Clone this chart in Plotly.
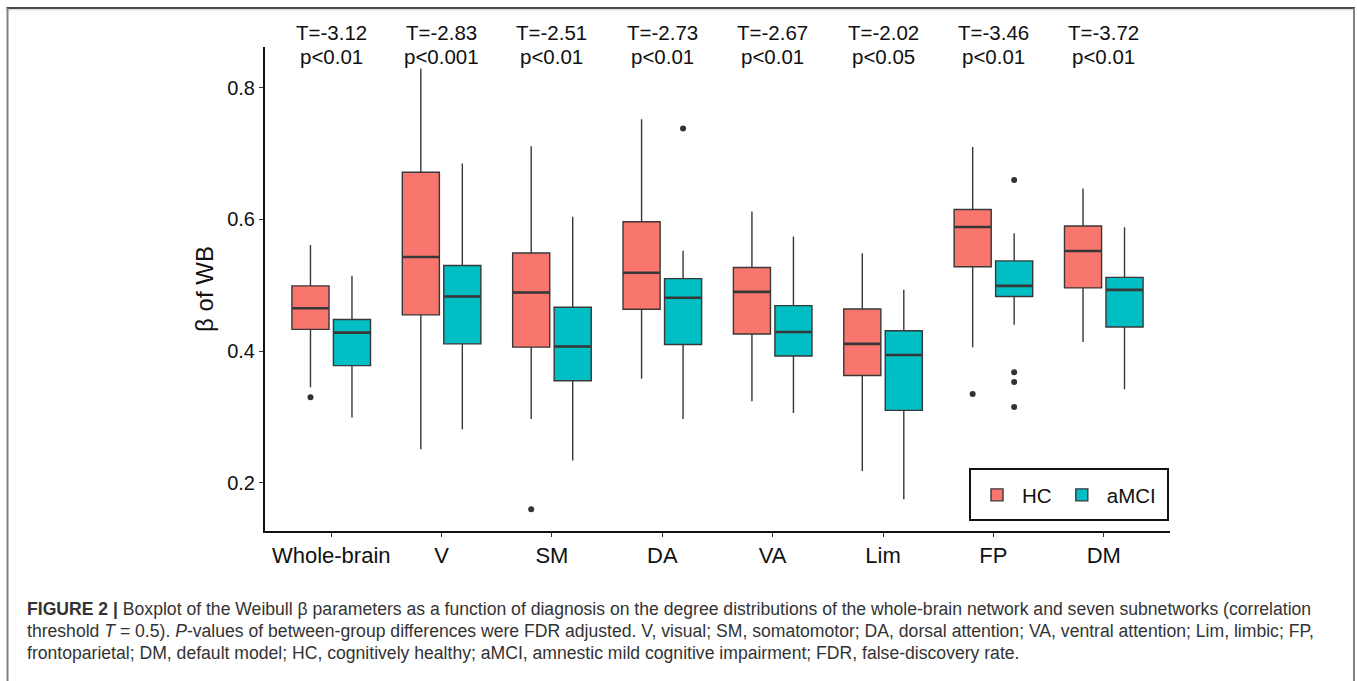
import plotly.graph_objects as go

# ---------------- data ----------------
categories = ["Whole-brain", "V", "SM", "DA", "VA", "Lim", "FP", "DM"]

hc_lower  = [0.345, 0.251, 0.297, 0.358, 0.324, 0.218, 0.406, 0.414]
hc_q1     = [0.433, 0.455, 0.406, 0.4635, 0.426, 0.363, 0.528, 0.496]
hc_median = [0.465, 0.543, 0.489, 0.519, 0.490, 0.411, 0.5885, 0.552]
hc_q3     = [0.499, 0.6715, 0.549, 0.5965, 0.527, 0.464, 0.615, 0.590]
hc_upper  = [0.561, 0.829, 0.711, 0.752, 0.612, 0.5485, 0.710, 0.647]

am_lower  = [0.299, 0.281, 0.234, 0.297, 0.306, 0.175, 0.440, 0.342]
am_q1     = [0.378, 0.411, 0.355, 0.410, 0.3925, 0.310, 0.483, 0.4366]
am_median = [0.428, 0.483, 0.407, 0.481, 0.429, 0.394, 0.499, 0.493]
am_q3     = [0.448, 0.530, 0.4665, 0.510, 0.469, 0.431, 0.537, 0.512]
am_upper  = [0.5145, 0.685, 0.604, 0.5525, 0.574, 0.493, 0.579, 0.588]

hc_outlier_cat = ["Whole-brain", "SM", "FP"]
hc_outlier_val = [0.330, 0.160, 0.335]
am_outlier_cat = ["DA", "FP", "FP", "FP", "FP"]
am_outlier_val = [0.738, 0.660, 0.368, 0.353, 0.315]

t_labels = ["T=-3.12", "T=-2.83", "T=-2.51", "T=-2.73", "T=-2.67", "T=-2.02", "T=-3.46", "T=-3.72"]
p_labels = ["p<0.01", "p<0.001", "p<0.01", "p<0.01", "p<0.01", "p<0.05", "p<0.01", "p<0.01"]

y_ticks = [0.2, 0.4, 0.6, 0.8]
y_range = [0.1268, 0.8618]

caption_lines = [
    "<b>FIGURE 2 |</b> Boxplot of the Weibull β parameters as a function of diagnosis on the degree distributions of the whole-brain network and seven subnetworks (correlation",
    "threshold <i>T</i> = 0.5). <i>P</i>-values of between-group differences were FDR adjusted. V, visual; SM, somatomotor; DA, dorsal attention; VA, ventral attention; Lim, limbic; FP,",
    "frontoparietal; DM, default model; HC, cognitively healthy; aMCI, amnestic mild cognitive impairment; FDR, false-discovery rate.",
]

# ---------------- layout geometry ----------------
W, H = 1357, 681
L, R, T, B = 265, 187, 47, 150
PW, PH = W - L - R, H - T - B


def px2x(px):
    return (px - L) / PW


def py2y(py):
    return (H - B - py) / PH


HC_COLOR = "#F8766D"
AM_COLOR = "#00BFC4"
LINE_COLOR = "#383838"
FONT = "Liberation Sans, Arial, Helvetica, sans-serif"

fig = go.Figure()

for name, color, lo, q1, med, q3, up in [
    ("HC", HC_COLOR, hc_lower, hc_q1, hc_median, hc_q3, hc_upper),
    ("aMCI", AM_COLOR, am_lower, am_q1, am_median, am_q3, am_upper),
]:
    fig.add_trace(go.Box(
        name=name, x=categories, q1=q1, median=med, q3=q3,
        lowerfence=lo, upperfence=up,
        fillcolor=color, line=dict(color=LINE_COLOR, width=1.4),
        whiskerwidth=0, offsetgroup=name, boxpoints=False,
        hoverinfo="skip",
    ))

# thicker median lines (ggplot style)
for name, med in [("HC", hc_median), ("aMCI", am_median)]:
    fig.add_trace(go.Scatter(
        x=categories, y=med, mode="markers", offsetgroup=name, showlegend=False,
        marker=dict(symbol="line-ew", size=26, color=LINE_COLOR,
                    line=dict(color=LINE_COLOR, width=2.6)),
        hoverinfo="skip",
    ))

# outliers
for name, cats, vals in [("HC", hc_outlier_cat, hc_outlier_val),
                         ("aMCI", am_outlier_cat, am_outlier_val)]:
    fig.add_trace(go.Scatter(
        x=cats, y=vals, mode="markers", offsetgroup=name, showlegend=False,
        marker=dict(size=6, color="#333333"),
        hoverinfo="skip",
    ))

annotations = []
for cat, t, p in zip(categories, t_labels, p_labels):
    annotations.append(dict(x=cat, xref="x", y=py2y(32), yref="paper", text=t,
                            showarrow=False, yanchor="middle",
                            font=dict(size=20.5, color="#111111", family=FONT)))
    annotations.append(dict(x=cat, xref="x", y=py2y(56), yref="paper",
                            text=p.replace("<", "&lt;"),
                            showarrow=False, yanchor="middle",
                            font=dict(size=20.5, color="#111111", family=FONT)))

for i, line in enumerate(caption_lines):
    annotations.append(dict(x=px2x(25), xref="paper", xanchor="left",
                            y=py2y(609 + 22 * i), yref="paper", yanchor="middle",
                            text=line, showarrow=False,
                            font=dict(size=17.6, color="#333333", family=FONT)))

shapes = [
    # figure frame
    dict(type="line", xref="paper", yref="paper", x0=px2x(6.5), x1=px2x(1355),
         y0=py2y(8), y1=py2y(8), line=dict(color="#4a4a4a", width=2)),
    dict(type="line", xref="paper", yref="paper", x0=px2x(8), x1=px2x(1354),
         y0=py2y(9.8), y1=py2y(9.8), line=dict(color="#d0d0d0", width=1)),
    dict(type="line", xref="paper", yref="paper", x0=px2x(7.5), x1=px2x(7.5),
         y0=py2y(8), y1=py2y(690), line=dict(color="#808080", width=2)),
    dict(type="line", xref="paper", yref="paper", x0=px2x(1354), x1=px2x(1354),
         y0=py2y(8), y1=py2y(690), line=dict(color="#808080", width=2)),
    # legend frame
    dict(type="rect", xref="paper", yref="paper", x0=px2x(970), x1=px2x(1168),
         y0=py2y(520), y1=py2y(469), line=dict(color="#111111", width=2),
         fillcolor="rgba(0,0,0,0)"),
]

fig.update_layout(
    width=W, height=H, autosize=False,
    margin=dict(l=L, r=R, t=T, b=B, pad=0),
    paper_bgcolor="white", plot_bgcolor="white",
    boxmode="group", boxgap=0.248, boxgroupgap=0.106,
    scattermode="group", scattergap=0.248,
    font=dict(family=FONT, color="#111111"),
    showlegend=True,
    legend=dict(
        orientation="h", x=px2x(972), xanchor="left", y=py2y(495), yanchor="middle",
        borderwidth=0, bgcolor="rgba(0,0,0,0)", itemwidth=40,
        font=dict(size=20.5, family=FONT, color="#111111"),
        itemclick=False, itemdoubleclick=False,
    ),
    annotations=annotations,
    shapes=shapes,
)

fig.update_xaxes(
    type="category", categoryorder="array", categoryarray=categories,
    range=[-0.6, len(categories) - 0.4],
    showline=True, linecolor="#111111", linewidth=2,
    ticks="outside", ticklen=4, tickcolor="#333333", tickwidth=1,
    tickfont=dict(size=22, family=FONT, color="#111111"),
    showgrid=False, zeroline=False, fixedrange=True,
)
fig.update_yaxes(
    range=y_range, tickvals=y_ticks, tickformat=".1f",
    showline=True, linecolor="#111111", linewidth=2,
    ticks="outside", ticklen=4, tickcolor="#333333", tickwidth=1,
    tickfont=dict(size=20, family=FONT, color="#111111"),
    title=dict(text="β of WB", font=dict(size=24, family=FONT, color="#111111"), standoff=7),
    showgrid=False, zeroline=False, fixedrange=True,
)

fig.write_html("out.html", config={"displayModeBar": False},
               post_script="document.body.style.margin='0';")
